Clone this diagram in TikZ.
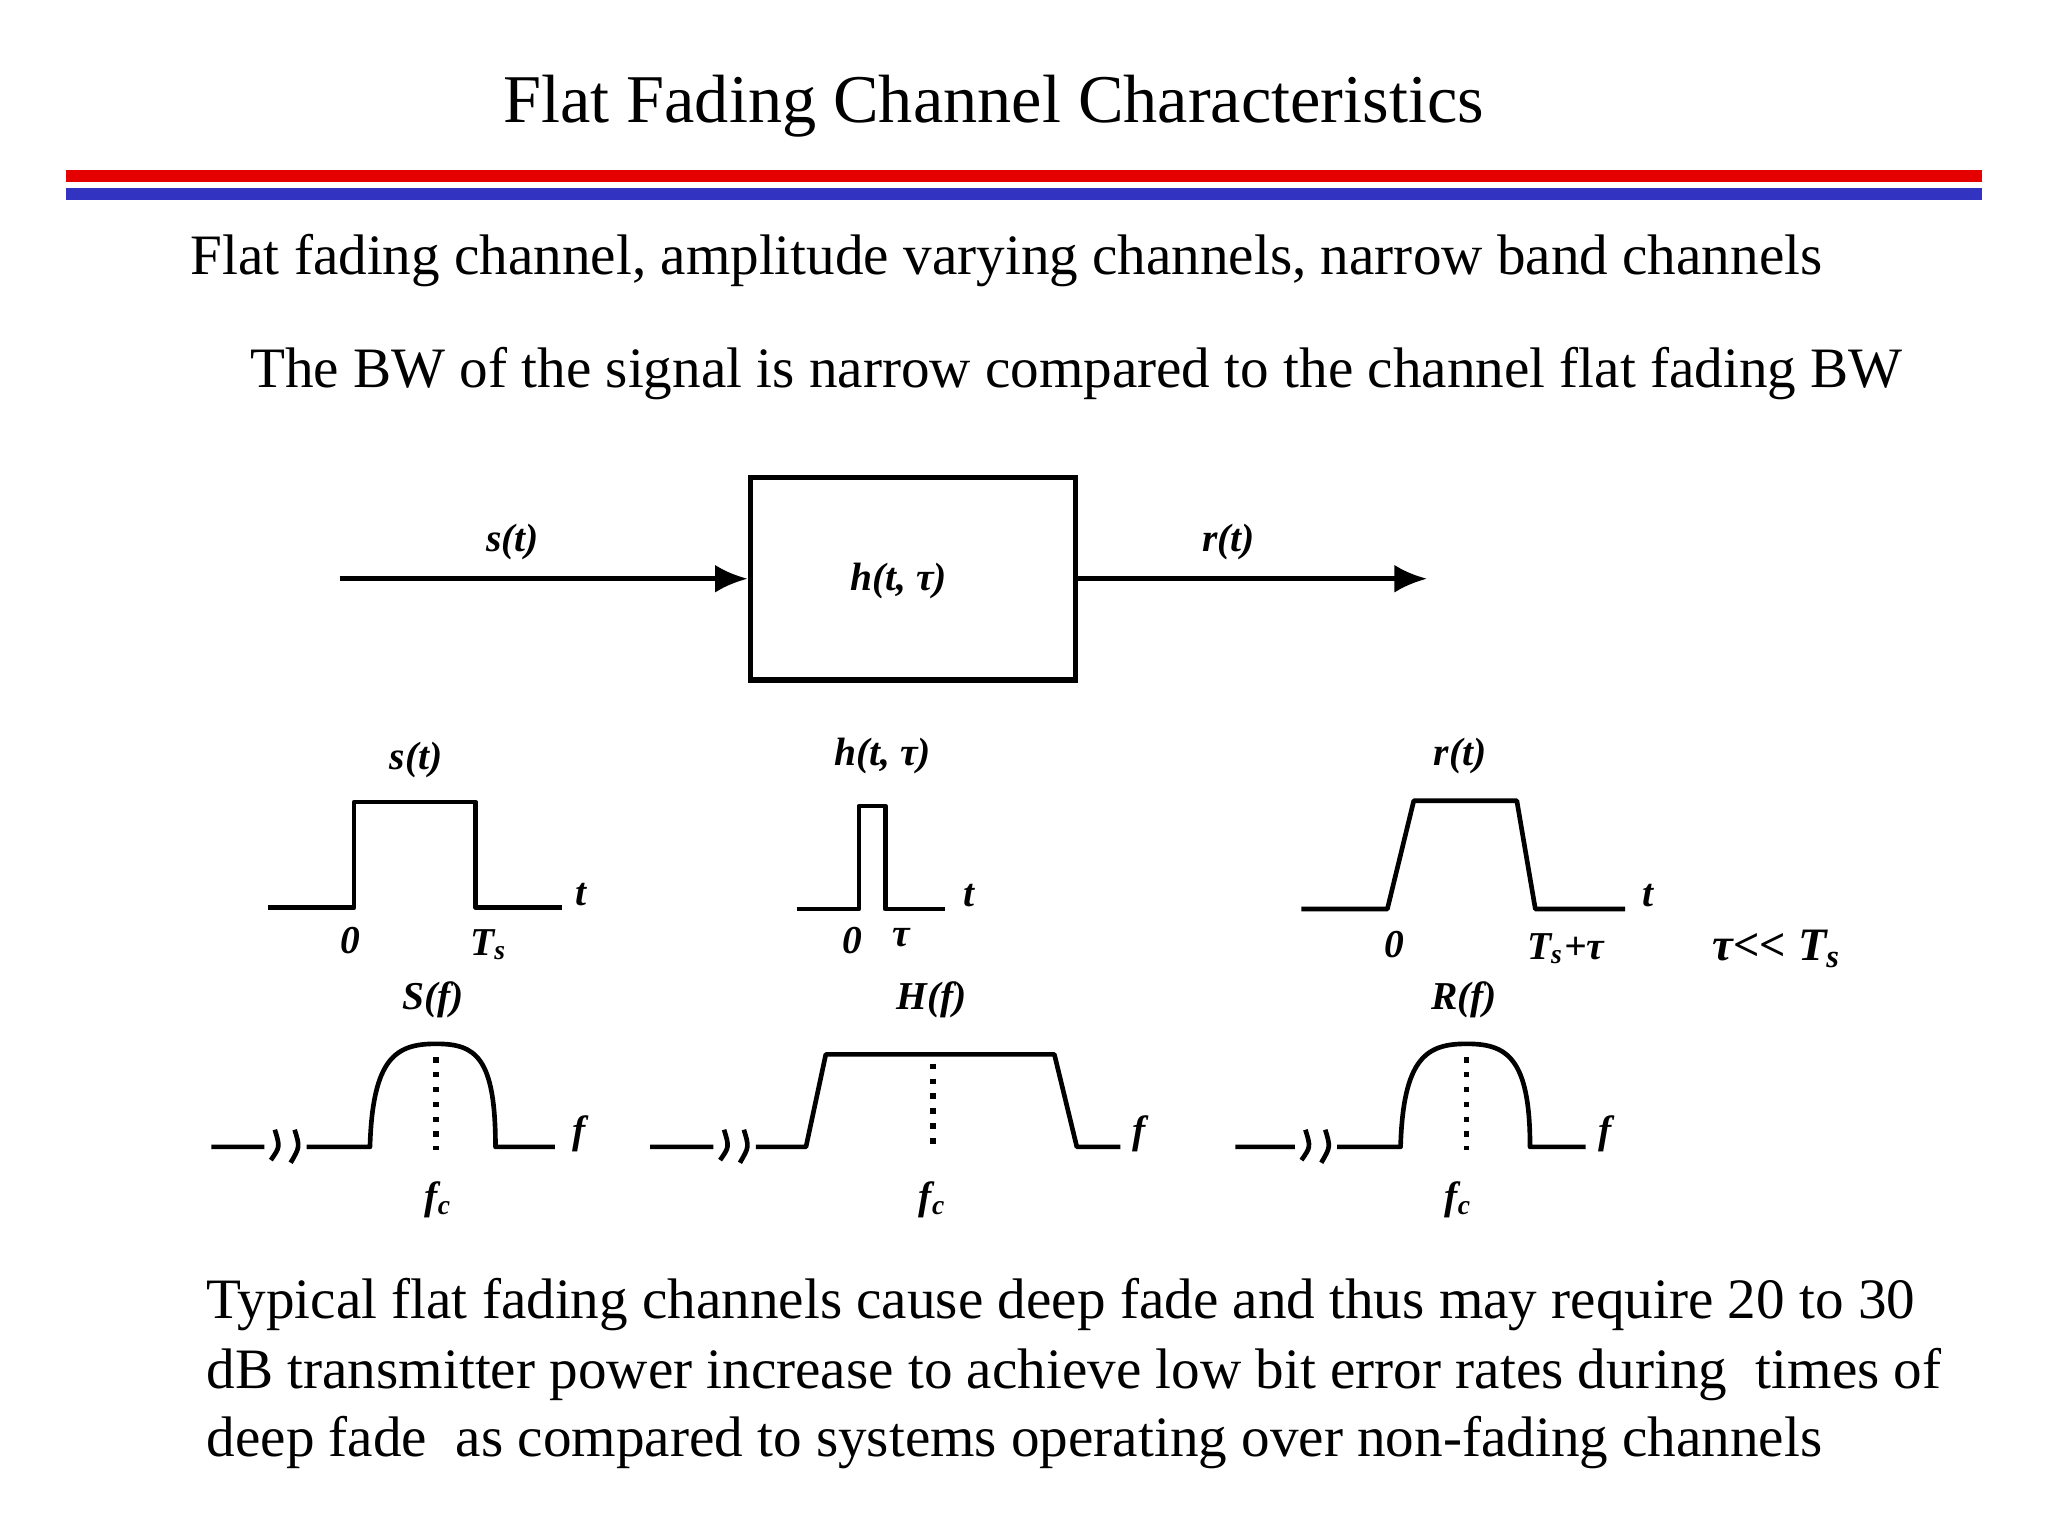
\documentclass[tikz,border=0pt]{standalone}
\usepackage{fontspec}
\setmainfont{Liberation Serif}
\usetikzlibrary{arrows.meta}
\begin{document}
\begin{tikzpicture}[x=0.01cm,y=-0.01cm,
 txt/.style={anchor=west,font=\fontsize{12.3}{14}\selectfont},
 lab/.style={font=\fontsize{8.5}{10}\selectfont\bfseries\itshape},
 sig/.style={line width=1pt,line join=round},
 arr/.style={line width=1pt,-{Latex[length=7pt,width=6pt]}}]
\useasboundingbox (0,0) rectangle (1550,1163);
\node[font=\fontsize{14.7}{16}\selectfont] (title) at (752,80) {Flat Fading Channel Characteristics};
\fill[red!90!black] (50,129) rectangle (1500,138);
\fill[blue!70!black!80] (50,142) rectangle (1500,151);
\node[txt] (l1) at (132,197) {Flat fading channel, amplitude varying channels, narrow band channels};
\node[txt] (l2) at (177,283) {The BW of the signal is narrow compared to the channel flat fading BW};
\node[draw,line width=1.2pt,minimum width=2.46cm,minimum height=1.53cm] (box) at (691,438) {};
\node[lab] (hb) at (680,440) {h(t, τ)};
\coordinate (in) at (257,438); \coordinate (out) at (1080,438);
\draw[arr] (in) -- (box.west);
\draw[arr] (box.east) -- (out);
\node[lab] (st) at (388,410) {s(t)};
\node[lab] (rt) at (930,410) {r(t)};
% time pulses
\draw[sig] (203,687) -- (268,687) -- (268,607) -- (360,607) -- (360,687) -- (425,687);
\node[lab] at (440,677) {t}; \node[lab] at (265,712) {0}; \node[lab] at (370,715) {T\textsubscript{s}};
\node[lab] at (315,575) {s(t)};
\draw[sig] (603,688) -- (650,688) -- (650,610) -- (670,610) -- (670,688) -- (715,688);
\node[lab] at (733,678) {t}; \node[lab] at (645,712) {0}; \node[lab] at (682,710) {τ};
\node[lab] at (668,572) {h(t, τ)};
\draw[sig] (985,688) -- (1050,688) -- (1070,606) -- (1148,606) -- (1162,688) -- (1230,688);
\node[lab] at (1247,678) {t}; \node[lab] at (1055,715) {0}; \node[lab] at (1185,718) {T\textsubscript{s}+τ};
\node[lab] at (1105,572) {r(t)};
\node[lab,font=\fontsize{10}{12}\selectfont\bfseries\itshape] at (1345,718) {τ{<}{<} T\textsubscript{s}};
% spectra
\draw[sig] (160,868) -- (200,868) (232,868) -- (280,868) .. controls (282,800) and (300,790) .. (330,790) .. controls (360,790) and (375,800) .. (375,868) -- (420,868);
\draw[sig] (205,878) .. controls (212,868) .. (208,855) (220,880) .. controls (227,868) .. (223,855);
\draw[line width=1.2pt,dotted] (330,800) -- (330,870);
\node[lab] at (438,858) {f}; \node[lab] at (332,908) {f\textsubscript{c}}; \node[lab] at (328,757) {S(f)};
\draw[sig] (492,868) -- (540,868) (572,868) -- (610,868) -- (625,798) -- (798,798) -- (815,868) -- (848,868);
\draw[sig] (545,878) .. controls (552,868) .. (548,855) (560,880) .. controls (567,868) .. (563,855);
\draw[line width=1.2pt,dotted] (706,805) -- (706,870);
\node[lab] at (862,858) {f}; \node[lab] at (706,908) {f\textsubscript{c}}; \node[lab] at (705,757) {H(f)};
\draw[sig] (935,868) -- (980,868) (1012,868) -- (1060,868) .. controls (1062,800) and (1080,790) .. (1110,790) .. controls (1140,790) and (1158,800) .. (1158,868) -- (1200,868);
\draw[sig] (985,878) .. controls (992,868) .. (988,855) (1000,880) .. controls (1007,868) .. (1003,855);
\draw[line width=1.2pt,dotted] (1110,800) -- (1110,870);
\node[lab] at (1215,858) {f}; \node[lab] at (1104,908) {f\textsubscript{c}}; \node[lab] at (1108,757) {R(f)};
\node[txt] (b1) at (144,987) {Typical flat fading channels cause deep fade and thus may require 20 to 30};
\node[txt] (b2) at (144,1040) {dB transmitter power increase to achieve low bit error rates during\ \ times of};
\node[txt] (b3) at (144,1092) {deep fade\ \ as compared to systems operating over non-fading channels};
\end{tikzpicture}
\end{document}
